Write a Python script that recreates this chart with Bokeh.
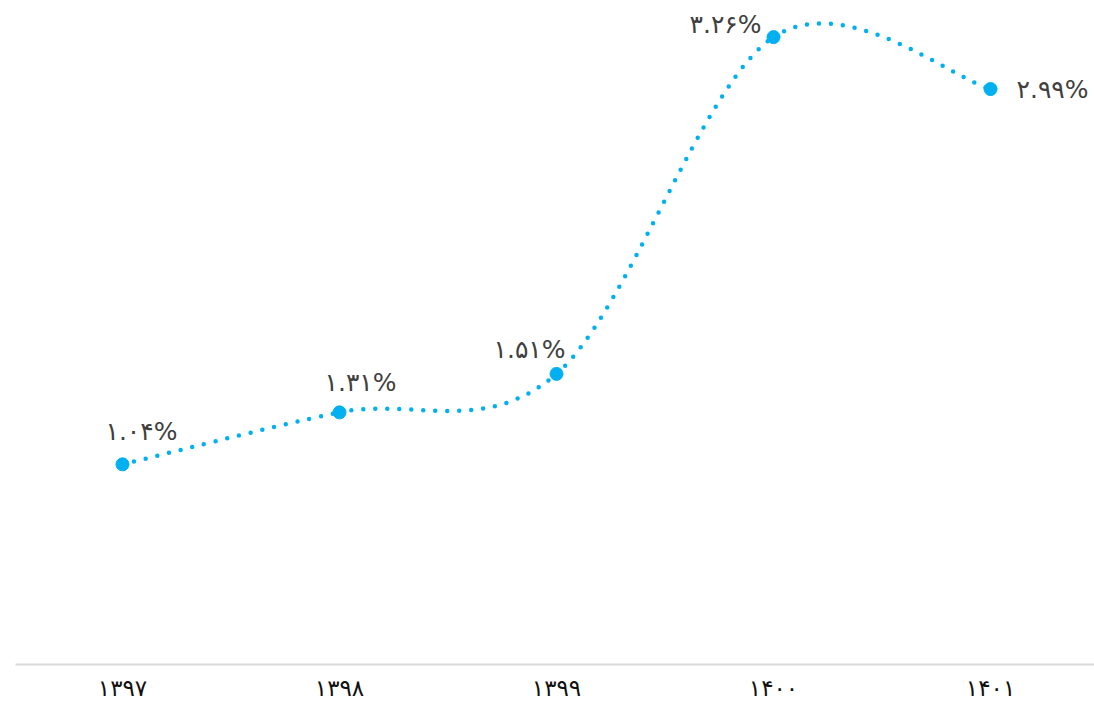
from bokeh.plotting import figure
from bokeh.models import ColumnDataSource, Range1d, FixedTicker
from bokeh.core.properties import value
from bokeh.embed import file_html
from bokeh.resources import INLINE

# Data
years = ["۱۳۹۷", "۱۳۹۸", "۱۳۹۹", "۱۴۰۰", "۱۴۰۱"]
rates = [1.04, 1.31, 1.51, 3.26, 2.99]
rate_labels = ["۱.۰۴%", "۱.۳۱%", "۱.۵۱%", "۳.۲۶%", "۲.۹۹%"]

# label placement (pixels, screen y grows downward), style only
label_dx = [19, 21, -27, -48, 62]
label_dy = [-33, -30, -24, -13, 0]

BLUE = "#00B0F0"
FONT = "DejaVu Sans"

xs = list(range(len(years)))

p = figure(width=1094, height=703, output_backend="svg", toolbar_location=None,
           x_range=Range1d(-0.493, 4.479), y_range=Range1d(0, 3.45),
           min_border_left=15, min_border_right=0, min_border_top=0, min_border_bottom=0)
p.outline_line_color = None
p.background_fill_color = "white"
p.border_fill_color = "white"
p.grid.visible = False
p.yaxis.visible = False

ax = p.xaxis[0]
ax.ticker = FixedTicker(ticks=xs)
ax.major_label_overrides = {i: y for i, y in enumerate(years)}
ax.major_tick_line_color = None
ax.minor_tick_line_color = None
ax.axis_line_color = "#d9d9d9"
ax.axis_line_width = 2
ax.major_label_text_font = FONT
ax.major_label_text_font_size = "23px"
ax.major_label_text_color = "#111111"
ax.major_label_standoff = 4

# Smooth curve (Catmull-Rom style Bezier segments, like a spreadsheet "smoothed line")
n = len(xs)
x0, y0, x1, y1, cx0, cy0, cx1, cy1 = [], [], [], [], [], [], [], []
for i in range(n - 1):
    pm = i - 1 if i > 0 else i
    pn = i + 2 if i + 2 < n else i + 1
    x0.append(xs[i]); y0.append(rates[i])
    x1.append(xs[i + 1]); y1.append(rates[i + 1])
    cx0.append(xs[i] + (xs[i + 1] - xs[pm]) / 6.0)
    cy0.append(rates[i] + (rates[i + 1] - rates[pm]) / 6.0)
    cx1.append(xs[i + 1] - (xs[pn] - xs[i]) / 6.0)
    cy1.append(rates[i + 1] - (rates[pn] - rates[i]) / 6.0)

seg = ColumnDataSource(dict(x0=x0, y0=y0, x1=x1, y1=y1, cx0=cx0, cy0=cy0, cx1=cx1, cy1=cy1))
p.bezier(x0="x0", y0="y0", x1="x1", y1="y1", cx0="cx0", cy0="cy0", cx1="cx1", cy1="cy1",
         source=seg, line_color=BLUE, line_width=4.5, line_dash="0 12", line_cap="round")

pts = ColumnDataSource(dict(x=xs, y=rates, lab=rate_labels, dx=label_dx, dy=label_dy))
p.scatter("x", "y", source=pts, size=13, fill_color=BLUE, line_color=BLUE)

p.text("x", "y", text="lab", source=pts, x_offset="dx", y_offset="dy",
       text_align="center", text_baseline="middle",
       text_font=value(FONT), text_font_size="25px", text_color="#404040")

open("out.html", "w").write(file_html(p, INLINE))
